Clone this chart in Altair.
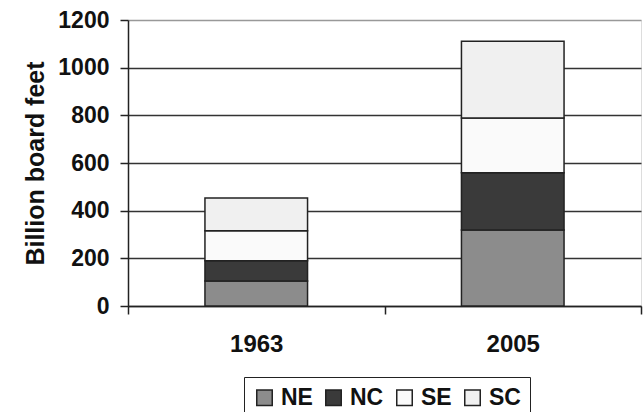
import altair as alt
import pandas as pd

years = ["1963", "2005"]
regions = ["NE", "NC", "SE", "SC"]
ne = [105, 319]
nc = [85, 240]
se = [126, 230]
sc = [137, 322]
colors = ["#8c8c8c", "#3a3a3a", "#fafafa", "#f0f0f0"]

series = {"NE": ne, "NC": nc, "SE": se, "SC": sc}
rows = []
for i, y in enumerate(years):
    for k, r in enumerate(regions):
        rows.append({"year": y, "region": r, "value": series[r][i], "ord": k})
df = pd.DataFrame(rows)

FONT = "Liberation Sans"

chart = (
    alt.Chart(df)
    .mark_bar(width=alt.RelativeBandSize(0.4), stroke="#222222", strokeWidth=1.5)
    .encode(
        x=alt.X(
            "year:N",
            title=None,
            sort=years,
            scale=alt.Scale(paddingInner=0, paddingOuter=0),
            axis=alt.Axis(
                labelAngle=0,
                tickBand="extent",
                ticks=True,
                tickSize=8,
                tickColor="#222222",
                tickWidth=1.5,
                domainColor="#222222",
                domainWidth=1.5,
                labelFont=FONT,
                labelFontWeight="bold",
                labelFontSize=24,
                labelColor="#111111",
                labelPadding=18,
                grid=False,
            ),
        ),
        y=alt.Y(
            "value:Q",
            title="Billion board feet",
            stack="zero",
            scale=alt.Scale(domain=[0, 1200], nice=False),
            axis=alt.Axis(
                values=[0, 200, 400, 600, 800, 1000, 1200],
                format="d",
                tickSize=8,
                tickColor="#222222",
                tickWidth=1.5,
                domainColor="#222222",
                domainWidth=1.5,
                gridColor=alt.condition("datum.value == 1200", alt.value("#999999"), alt.value("#333333")),
                gridWidth=1.5,
                labelFont=FONT,
                labelFontWeight="bold",
                labelFontSize=23,
                labelColor="#111111",
                labelPadding=11,
                titleFont=FONT,
                titleFontWeight="bold",
                titleFontSize=25,
                titleColor="#111111",
                titlePadding=9,
            ),
        ),
        color=alt.Color(
            "region:N",
            scale=alt.Scale(domain=regions, range=colors),
            legend=alt.Legend(
                title=None,
                orient="none",
                direction="horizontal",
                legendX=116,
                legendY=357,
                symbolType="square",
                symbolSize=240,
                symbolStrokeColor="#222222",
                symbolStrokeWidth=1.5,
                labelFont=FONT,
                labelFontWeight="bold",
                labelFontSize=23,
                labelColor="#111111",
                labelOffset=5,
                columnPadding=9,
                strokeColor="#222222",
                padding=9,
                fillColor="white",
            ),
        ),
        order=alt.Order("ord:Q", sort="ascending"),
    )
    .properties(
        width=513,
        height=286,
        autosize=alt.AutoSizeParams(type="none"),
        padding={"left": 128, "top": 20, "right": 3, "bottom": 106},
    )
    .configure_view(stroke="#999999", strokeWidth=1.5)
    .configure(background="white")
)

chart.save("out.html", embed_options={"renderer": "svg", "actions": False})
